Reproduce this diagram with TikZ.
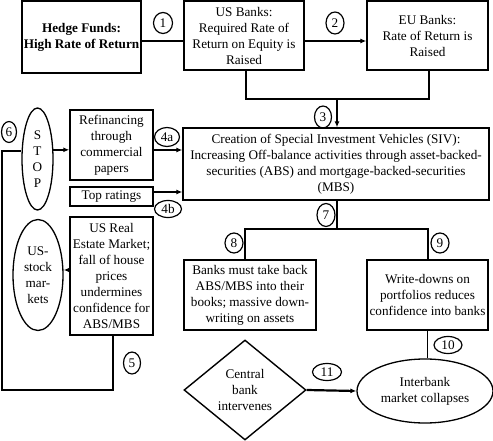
\documentclass[tikz,border=0pt]{standalone}
\usepackage{fontspec}
\setmainfont{Liberation Serif}
\usetikzlibrary{arrows.meta,shapes.geometric}
\begin{document}
\begin{tikzpicture}[x=1pt,y=-1pt,
  every node/.style={font=\fontsize{13.2}{16}\selectfont, align=center, inner sep=0pt},
  box/.style={draw, line width=1.4pt, rectangle},
  oval/.style={draw, line width=1.3pt, ellipse},
  num/.style={draw, line width=1.2pt, ellipse, minimum width=17pt, minimum height=22pt},
  ln/.style={line width=1.4pt},
  arr/.style={line width=1.4pt, -{Latex[length=6pt,width=5pt]}},
  thickarr/.style={line width=2.2pt, -{Latex[length=6pt,width=5pt]}}]
\useasboundingbox (0,0) rectangle (493,441);
% boxes
\node[box, minimum width=119pt, minimum height=72pt] (hedge) at (81.5,37) {\bfseries Hedge Funds:\\\bfseries High Rate of Return};
\node[box, minimum width=120pt, minimum height=69pt] (usb) at (244,35.5) {US Banks:\\Required Rate of\\Return on Equity is\\Raised};
\node[box, minimum width=121pt, minimum height=69pt] (eub) at (427.5,35.5) {EU Banks:\\Rate of Return is\\Raised};
\node[box, minimum width=306pt, minimum height=72pt] (siv) at (336,164) {Creation of Special Investment Vehicles (SIV):\\Increasing Off-balance activities through asset-backed-\\securities (ABS) and mortgage-backed-securities\\(MBS)};
\node[box, minimum width=83pt, minimum height=70pt] (refin) at (111.5,145) {Refinancing\\through\\commercial\\papers};
\node[box, minimum width=83pt, minimum height=19pt] (toprat) at (111.5,196.5) {Top ratings};
\node[box, minimum width=83pt, minimum height=118pt] (usre) at (111.5,276) {US Real\\Estate Market;\\fall of house\\prices\\undermines\\confidence for\\ABS/MBS};
\node[oval, minimum width=31pt, minimum height=102pt] (stop) at (37.5,159) {S\\T\\O\\P};
\node[oval, minimum width=50pt, minimum height=111pt] (usstock) at (38,275) {US-\\stock\\mar-\\kets};
\node[box, minimum width=132pt, minimum height=70pt] (b8) at (250,295) {Banks must take back\\ABS/MBS into their\\books; massive down-\\writing on assets};
\node[box, minimum width=121pt, minimum height=70pt] (b9) at (427.5,295) {Write-downs on\\portfolios reduces\\confidence into banks};
\node[draw, line width=1.4pt, diamond, minimum width=122pt, minimum height=100pt] (cb) at (245,390) {Central\\bank\\intervenes};
\node[oval, minimum width=136pt, minimum height=64pt] (ib) at (425,391) {Interbank\\market collapses};
% number markers
\node[num, minimum width=19pt, minimum height=21pt] (c1) at (163,23) {1};
\node[num, minimum width=18pt] (c2) at (335,23) {2};
\node[num] (c3) at (323,117) {3};
\node[num, minimum width=25pt, minimum height=19pt] (c4a) at (167,137) {4a};
\node[num, minimum width=27pt, minimum height=17pt] (c4b) at (168,209) {4b};
\node[num] (c5) at (132,363) {5};
\node[num, minimum width=15pt, minimum height=21pt] (c6) at (9,132) {6};
\node[num, minimum width=18pt, minimum height=23pt] (c7) at (326,215) {7};
\node[num, minimum width=18pt, minimum height=20pt] (c8) at (234,243) {8};
\node[num, minimum width=18pt, minimum height=20pt] (c9) at (440,243) {9};
\node[num, minimum width=28pt, minimum height=17pt] (c10) at (448,345) {10};
\node[num, minimum width=29pt, minimum height=17pt] (c11) at (327,372) {11};
% junction coordinates
\coordinate (j3) at (337,99);
\coordinate (j7) at (337,229);
\coordinate (k8) at (245,229);
\coordinate (k9) at (428,229);
\coordinate (l1) at (113,390);
\coordinate (l2) at (2,390);
\coordinate (l3) at (2,151);
% connectors
\draw[ln] ([yshift=-4pt]hedge.east) -- ([yshift=-4pt]hedge.east -| usb.west);
\draw[arr] ([yshift=-5.5pt]usb.east) -- ([yshift=-5.5pt]usb.east -| eub.west);
\draw[ln] (usb.south -| 246,0) -- (246,99) -- (j3 -| 429,0) -- (eub.south -| 429,0);
\draw[arr] (j3) -- (j3 |- siv.north);
\draw[arr] ([yshift=-5pt]refin.east) -- ([yshift=-5pt]refin.east -| siv.west);
\draw[arr] ([yshift=4.5pt]toprat.east) -- ([yshift=4.5pt]toprat.east -| siv.west);
\draw[arr] (stop.30) -- (stop.30 -| refin.west);
\draw[arr] ([yshift=6pt]usre.west) -- ([yshift=6pt]usre.west -| usstock.east);
\draw[ln] (usre.south -| l1) -- (l1) -- (l2) -- (l3) -- (l3 -| stop.west);
\draw[ln] (siv.south -| j7) -- (j7);
\draw[ln] (k8 |- b8.north) -- (k8) -- (k9) -- (k9 |- b9.north);
\draw[ln] (b9.south) -- (b9.south |- ib.north);
\draw[thickarr] (cb.east) -- (ib.west);
\end{tikzpicture}
\end{document}
